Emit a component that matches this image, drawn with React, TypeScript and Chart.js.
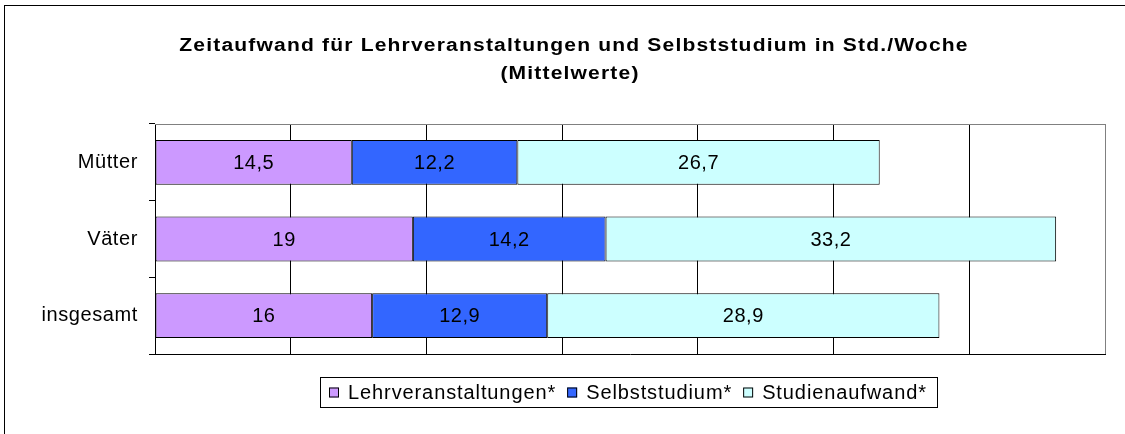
import React, { useEffect, useRef } from 'react';
import { Chart, registerables } from 'chart.js';

Chart.register(...registerables);

const categories = ['Mütter', 'Väter', 'insgesamt'];
const seriesNames = ['Lehrveranstaltungen*', 'Selbststudium*', 'Studienaufwand*'];
const lehrveranstaltungen = [14.5, 19, 16];
const selbststudium = [12.2, 14.2, 12.9];
const studienaufwand = [26.7, 33.2, 28.9];
const seriesColors = ['#CC99FF', '#3366FF', '#CCFFFF'];
const titleLines = ['Zeitaufwand für Lehrveranstaltungen und Selbststudium in Std./Woche', '(Mittelwerte)'];
const xMax = 70;
const xStep = 10;

const FONT = '"Liberation Sans", Arial, sans-serif';
const fmt = (v: number) => String(v).replace('.', ',');

const decorPlugin = {
  id: 'decor',
  beforeDraw(chart: any) {
    const ctx = chart.ctx;
    ctx.letterSpacing = '0.6px';
    ctx.save();
    ctx.fillStyle = '#fff';
    ctx.fillRect(0, 0, chart.width, chart.height);
    ctx.strokeStyle = '#000';
    ctx.lineWidth = 1;
    ctx.strokeRect(4.5, 5.5, 3000, 3000);
    // title (slightly widened glyphs like the original rendering)
    ctx.fillStyle = '#000';
    ctx.font = `bold 18px ${FONT}`;
    ctx.letterSpacing = '1px';
    ctx.textAlign = 'center';
    ctx.textBaseline = 'middle';
    const sx = 1.17;
    ctx.scale(sx, 1);
    ctx.fillText(titleLines[0], 574 / sx, 46);
    ctx.fillText(titleLines[1], 570 / sx, 74);
    ctx.restore();
  },
  afterDatasetsDraw(chart: any) {
    const ctx = chart.ctx;
    ctx.save();
    ctx.letterSpacing = '0.5px';
    ctx.font = `20px ${FONT}`;
    ctx.fillStyle = '#000';
    ctx.textAlign = 'center';
    ctx.textBaseline = 'middle';
    chart.data.datasets.forEach((ds: any, i: number) => {
      const meta = chart.getDatasetMeta(i);
      meta.data.forEach((bar: any, j: number) => {
        const p = bar.getProps(['x', 'base', 'y'], true);
        ctx.fillText(fmt(ds.data[j]), (p.x + p.base) / 2, p.y + 1);
      });
    });
    ctx.restore();
  },
  afterDraw(chart: any) {
    const ctx = chart.ctx;
    const a = chart.chartArea;
    ctx.save();
    // top gray border
    ctx.strokeStyle = '#808080';
    ctx.lineWidth = 1;
    ctx.beginPath();
    ctx.moveTo(a.left, Math.round(a.top) + 0.5);
    ctx.lineTo(a.right, Math.round(a.top) + 0.5);
    ctx.stroke();
    // legend
    const bx = 320, by = 377, bw = 617, bh = 30;
    ctx.strokeStyle = '#000';
    ctx.strokeRect(bx + 0.5, by + 0.5, bw, bh);
    ctx.font = `20px ${FONT}`;
    ctx.letterSpacing = '0.9px';
    ctx.textAlign = 'left';
    ctx.textBaseline = 'middle';
    let x = bx + 9;
    const cy = by + bh / 2 + 0.5;
    seriesNames.forEach((name, i) => {
      ctx.fillStyle = seriesColors[i];
      ctx.fillRect(x, cy - 5, 10, 10);
      ctx.strokeStyle = '#000';
      ctx.strokeRect(x + 0.5, cy - 5 + 0.5, 9, 9);
      ctx.fillStyle = '#000';
      ctx.fillText(name, x + 19, cy + 1);
      x += 19 + ctx.measureText(name).width + 11;
    });
    ctx.restore();
  },
};

export default function App() {
  const ref = useRef<HTMLCanvasElement>(null);
  useEffect(() => {
    if (!ref.current) return;
    const values = [lehrveranstaltungen, selbststudium, studienaufwand];
    const chart = new Chart(ref.current, {
      type: 'bar',
      data: {
        labels: categories,
        datasets: seriesNames.map((name, i) => ({
          label: name,
          data: values[i],
          backgroundColor: seriesColors[i],
          borderColor: '#000',
          borderWidth: 1,
          borderSkipped: false,
          barPercentage: 0.585,
          categoryPercentage: 1,
        })),
      },
      options: {
        indexAxis: 'y',
        responsive: false,
        animation: false,
        devicePixelRatio: 1,
        layout: { padding: { left: 0, top: 124, right: 20, bottom: 80 } },
        plugins: {
          legend: { display: false },
          title: { display: false },
          tooltip: { enabled: false },
        },
        scales: {
          x: {
            stacked: true,
            min: 0,
            max: xMax,
            ticks: { display: false, stepSize: xStep },
            grid: {
              color: (c: any) => (c.tick && c.tick.value === xMax ? '#808080' : '#000'),
              drawTicks: false,
              lineWidth: 1,
            },
            border: { display: true, color: '#000' },
            afterFit: (s: any) => { s.height = 0; },
          },
          y: {
            stacked: true,
            ticks: { font: { size: 20, family: FONT }, color: '#000', padding: 11 },
            grid: { drawOnChartArea: false, tickLength: 6, color: '#000', offset: true },
            border: { color: '#000' },
            afterFit: (s: any) => { s.width = 155; },
          },
        },
      } as any,
      plugins: [decorPlugin],
    });
    return () => chart.destroy();
  }, []);
  return (
    <div style={{ position: 'absolute', left: 0, top: 0, width: 1125, height: 434 }}>
      <canvas ref={ref} width={1125} height={434} />
    </div>
  );
}
